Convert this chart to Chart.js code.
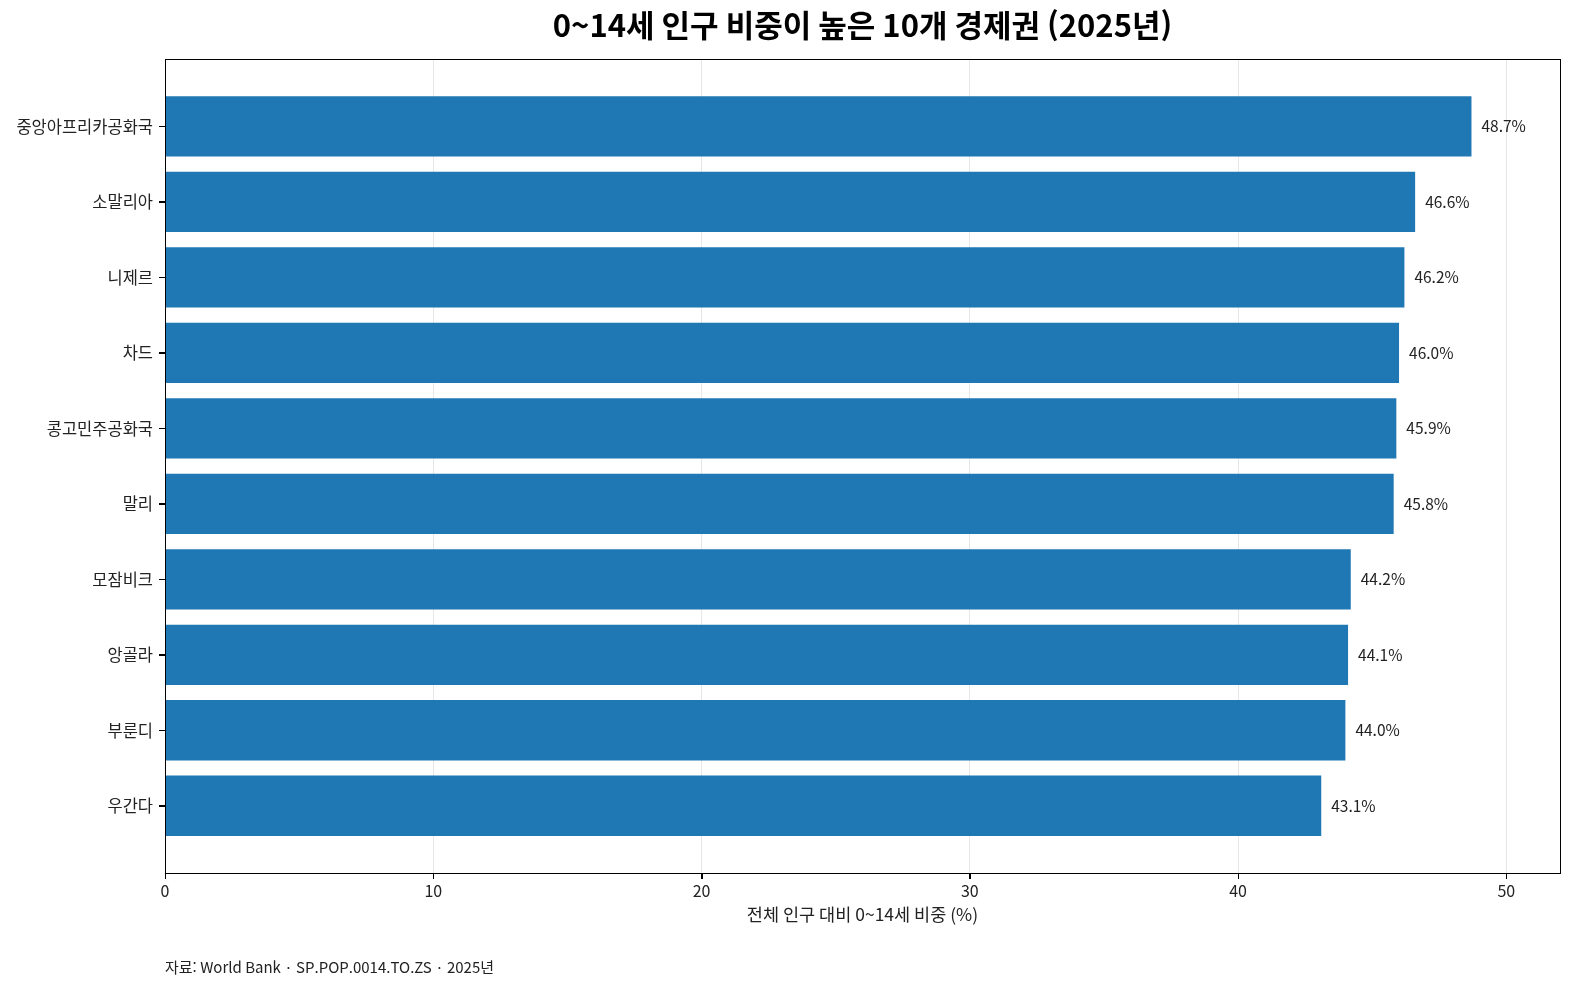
<!DOCTYPE html>
<html lang="ko">
<head>
<meta charset="utf-8">
<title>0~14세 인구 비중이 높은 10개 경제권 (2025년)</title>
<script src="https://cdn.jsdelivr.net/npm/chart.js@4/dist/chart.umd.min.js"></script>
<style>
  html, body { margin: 0; padding: 0; background: #fff; }
  canvas { display: block; }
</style>
</head>
<body>
<canvas id="popChart" width="1571" height="989"></canvas>
<script>
// ---- DATA ----
const countries = ['중앙아프리카공화국', '소말리아', '니제르', '차드', '콩고민주공화국', '말리', '모잠비크', '앙골라', '부룬디', '우간다'];
const shares = [48.7, 46.6, 46.2, 46.0, 45.9, 45.8, 44.2, 44.1, 44.0, 43.1];
const xTicks = [0, 10, 20, 30, 40, 50];

const FONT = '"Noto Sans CJK KR", "Noto Sans", sans-serif';

// value labels at the end of each bar
const valueLabels = {
  id: 'valueLabels',
  afterDatasetsDraw(chart) {
    const { ctx } = chart;
    const meta = chart.getDatasetMeta(0);
    ctx.save();
    ctx.font = '15.5px ' + FONT;
    ctx.fillStyle = '#222';
    ctx.textAlign = 'left';
    ctx.textBaseline = 'middle';
    meta.data.forEach((bar, i) => {
      ctx.fillText(shares[i].toFixed(1) + '%', bar.x + 10, bar.y);
    });
    ctx.restore();
  }
};

// full box around the plot, outward tick marks, source note
const frame = {
  id: 'frame',
  afterDraw(chart) {
    const { ctx, chartArea: a, scales } = chart;
    ctx.save();
    ctx.strokeStyle = '#000';
    ctx.lineWidth = 1;
    ctx.strokeRect(Math.round(a.left) + 0.5, Math.round(a.top) + 0.5,
      Math.round(a.right - a.left), Math.round(a.bottom - a.top));

    ctx.beginPath();
    scales.y.ticks.forEach(t => {
      const py = Math.round(scales.y.getPixelForValue(t.value)) + 0.5;
      ctx.moveTo(Math.round(a.left), py);
      ctx.lineTo(Math.round(a.left) - 6, py);
    });
    scales.x.ticks.forEach(t => {
      const px = Math.round(scales.x.getPixelForValue(t.value)) + 0.5;
      ctx.moveTo(px, Math.round(a.bottom));
      ctx.lineTo(px, Math.round(a.bottom) + 6);
    });
    ctx.stroke();

    ctx.font = '15px ' + FONT;
    ctx.fillStyle = '#222';
    ctx.textAlign = 'left';
    ctx.textBaseline = 'middle';
    ctx.fillText('자료: World Bank · SP.POP.0014.TO.ZS · 2025년', a.left, 967);
    ctx.restore();
  }
};

new Chart(document.getElementById('popChart'), {
  type: 'bar',
  data: {
    datasets: [{
      data: shares.map((v, i) => ({ x: v, y: i })),
      backgroundColor: '#1f77b4',
      borderWidth: 0,
      barPercentage: 0.8,
      categoryPercentage: 1.0
    }]
  },
  options: {
    indexAxis: 'y',
    responsive: false,
    animation: false,
    layout: { padding: { left: 0, right: 11, top: 0, bottom: 50 } },
    plugins: {
      legend: { display: false },
      tooltip: { enabled: false },
      title: {
        display: true,
        fullSize: false,
        text: '0~14세 인구 비중이 높은 10개 경제권 (2025년)',
        color: '#000',
        font: { family: FONT, size: 31, weight: 'bold' },
        padding: { top: 7, bottom: 15 }
      }
    },
    scales: {
      x: {
        type: 'linear',
        min: 0,
        max: 52,
        z: 1,
        afterBuildTicks: scale => { scale.ticks = xTicks.map(v => ({ value: v })); },
        afterFit: scale => { scale.height = 66; },
        grid: { color: 'rgba(176,176,176,0.3)', tickColor: '#000', tickLength: 6 },
        border: { color: '#000' },
        ticks: { color: '#222', font: { family: FONT, size: 16 }, padding: 2, maxRotation: 0 },
        title: {
          display: true,
          text: '전체 인구 대비 0~14세 비중 (%)',
          color: '#222',
          font: { family: FONT, size: 17.5 },
          padding: { top: 0, bottom: 14 }
        }
      },
      y: {
        type: 'linear',
        reverse: true,
        offset: false,
        min: -0.89,
        max: 9.89,
        z: 1,
        afterBuildTicks: scale => { scale.ticks = countries.map((c, i) => ({ value: i })); },
        afterFit: scale => { scale.width = 165; },
        grid: { offset: false, drawOnChartArea: false, tickColor: '#000', tickLength: 6 },
        border: { color: '#000' },
        ticks: {
          color: '#222',
          font: { family: FONT, size: 16.5 },
          padding: 6,
          autoSkip: false,
          callback: v => countries[v]
        }
      }
    }
  },
  plugins: [valueLabels, frame]
});
</script>
</body>
</html>
